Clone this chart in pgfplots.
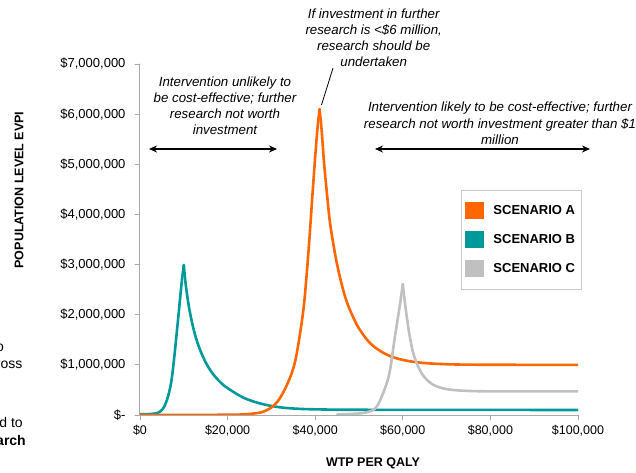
\documentclass[border=0pt]{standalone}
\usepackage{pgfplots}
\pgfplotsset{compat=1.18}
\usepackage{fontspec}
\setmainfont{Liberation Sans}
\usetikzlibrary{arrows.meta}
\definecolor{orA}{RGB}{255,102,0}
\definecolor{teB}{RGB}{0,153,153}
\definecolor{grC}{RGB}{192,192,192}
\definecolor{axg}{RGB}{170,170,170}
\definecolor{lgb}{RGB}{200,200,200}
\pgfplotsset{sqlegend/.style={legend image code/.code={\fill[##1, draw=none] (0bp,-8.5bp) rectangle (19bp,8.5bp);}}}
\begin{document}
\begin{tikzpicture}
\useasboundingbox (-140bp,-58bp) rectangle (496bp,415bp);
\clip (-140bp,-58bp) rectangle (496bp,415bp);
\begin{axis}[
  at={(0,0)}, anchor=south west,
  scale only axis, width=438bp, height=351bp,
  xmin=0, xmax=100000, ymin=0, ymax=7000000,
  axis lines*=left,
  axis line style={axg, line width=1bp},
  tick style={axg, line width=0.8bp},
  tick align=outside, major tick length=5bp,
  xtick={0,20000,40000,60000,80000,100000},
  xticklabels={{\$0},{\$20,000},{\$40,000},{\$60,000},{\$80,000},{\$100,000}},
  ytick={0,1000000,2000000,3000000,4000000,5000000,6000000,7000000},
  yticklabels={{\$-},{\$1,000,000},{\$2,000,000},{\$3,000,000},{\$4,000,000},{\$5,000,000},{\$6,000,000},{\$7,000,000}},
  xticklabel style={font=\fontsize{12.5bp}{14bp}\selectfont, yshift=-2bp},
  yticklabel style={font=\fontsize{13bp}{15bp}\selectfont, xshift=-6bp},
  scaled ticks=false,
  legend style={at={(0.733,0.641)}, anchor=north west, draw=lgb, line width=0.8bp,
    font=\bfseries\fontsize{13bp}{15bp}\selectfont, row sep=12bp, column sep=7bp,
    inner xsep=4bp, inner ysep=12bp},
  legend cell align=left,
  line join=round, line cap=round,
]
\addlegendimage{sqlegend, fill=orA}
\addlegendentry{SCENARIO A}
\addlegendimage{sqlegend, fill=teB}
\addlegendentry{SCENARIO B}
\addlegendimage{sqlegend, fill=grC}
\addlegendentry{SCENARIO C}
% Scenario B (rising, falling)
\addplot[teB, line width=2.6bp, forget plot, smooth, tension=0.5] coordinates {
(0,14000) (2000,18000) (3000,25000) (4000,40000) (4600,70000) (5000,100000)
(5500,160000) (5900,240000) (6500,400000) (7100,640000) (7500,900000)
(8000,1300000) (8750,1960000) (9500,2630000) (10000,2990000)};
\addplot[teB, line width=2.6bp, forget plot, smooth, tension=0.5] coordinates {
(10000,2990000) (10400,2630000) (11000,2250000) (11600,1960000) (12500,1620000)
(13700,1300000) (15000,1050000) (16000,900000) (17100,770000) (19000,600000)
(21700,440000) (24000,330000) (27000,240000) (30000,180000) (33000,143000)
(37000,120000) (42000,110000) (50000,104000) (100000,100000)};
% Scenario A
\addplot[orA, line width=2.6bp, forget plot, smooth, tension=0.5] coordinates {
(0,0) (20000,5000) (24000,15000) (26000,30000) (28000,60000) (30000,150000)
(31500,280000) (33000,500000) (34500,800000) (35500,1100000) (36500,1600000)
(37500,2250000) (38500,3300000) (39300,4300000) (40000,5150000) (40500,5700000)
(41000,6100000)};
\addplot[orA, line width=2.6bp, forget plot, smooth, tension=0.5] coordinates {
(41000,6100000) (41500,5650000) (42000,5050000) (42700,4400000) (43400,3820000)
(44500,3230000) (45400,2840000) (46400,2490000) (47200,2260000) (48000,2080000)
(49500,1800000) (50500,1660000) (51500,1536000) (52700,1420000) (54000,1326000)
(55000,1270000) (56000,1219000) (57800,1152000) (60000,1098000) (63000,1054000)
(67000,1024000) (75000,1004000) (100000,1000000)};
% Scenario C
\addplot[grC, line width=2.6bp, forget plot, smooth, tension=0.5] coordinates {
(45000,10000) (50000,30000) (52000,60000) (53300,100000) (54300,200000)
(55200,370000) (56200,600000) (57100,900000) (58200,1560000) (59400,2230000)
(60000,2610000)};
\addplot[grC, line width=2.6bp, forget plot, smooth, tension=0.5] coordinates {
(60000,2610000) (60500,2230000) (61000,1900000) (61600,1560000) (62300,1260000)
(63200,1030000) (64300,830000) (65500,700000) (67000,600000) (69200,530000)
(72000,495000) (75000,480000) (80000,472000) (100000,470000)};
\end{axis}
% axis labels
\node[font=\bfseries\fontsize{12.5bp}{14bp}\selectfont, rotate=90] at (-121bp,225bp) {POPULATION LEVEL EVPI};
\node[font=\bfseries\fontsize{12.5bp}{14bp}\selectfont] at (233bp,-48bp) {WTP PER QALY};
% annotations
\node[font=\itshape\fontsize{13.3bp}{16bp}\selectfont, align=center, inner sep=0pt] at (233.7bp,377.7bp)
 {If investment in further\\research is <\$6 million,\\research should be\\undertaken};
\draw[black, line width=0.8bp] (193bp,347bp) -- (181.5bp,310bp);
\node[font=\itshape\fontsize{13.3bp}{16bp}\selectfont, align=center, inner sep=0pt] at (85bp,309bp)
 {Intervention unlikely to\\be cost-effective; further\\research not worth\\investment};
\node[font=\itshape\fontsize{13.3bp}{16.5bp}\selectfont, align=center, inner sep=0pt] at (360bp,291.5bp)
 {Intervention likely to be cost-effective; further\\research not worth investment greater than \$1\\million};
\draw[{Stealth[length=8bp,width=7bp]}-{Stealth[length=8bp,width=7bp]}, line width=1.2bp] (9bp,266bp) -- (137bp,266bp);
\draw[{Stealth[length=8bp,width=7bp]}-{Stealth[length=8bp,width=7bp]}, line width=1.2bp] (235bp,266bp) -- (450bp,266bp);
% cut-off fragments of a side text box
\node[font=\fontsize{14bp}{16bp}\selectfont, anchor=east, inner sep=0pt] at (-136bp,68bp) {to};
\node[font=\fontsize{14bp}{16bp}\selectfont, anchor=east, inner sep=0pt] at (-117.5bp,50bp) {across};
\node[font=\fontsize{14bp}{16bp}\selectfont, anchor=east, inner sep=0pt] at (-117bp,-7bp) {led to};
\node[font=\bfseries\fontsize{14bp}{16bp}\selectfont, anchor=east, inner sep=0pt] at (-114bp,-25bp) {research};
\end{tikzpicture}
\end{document}
